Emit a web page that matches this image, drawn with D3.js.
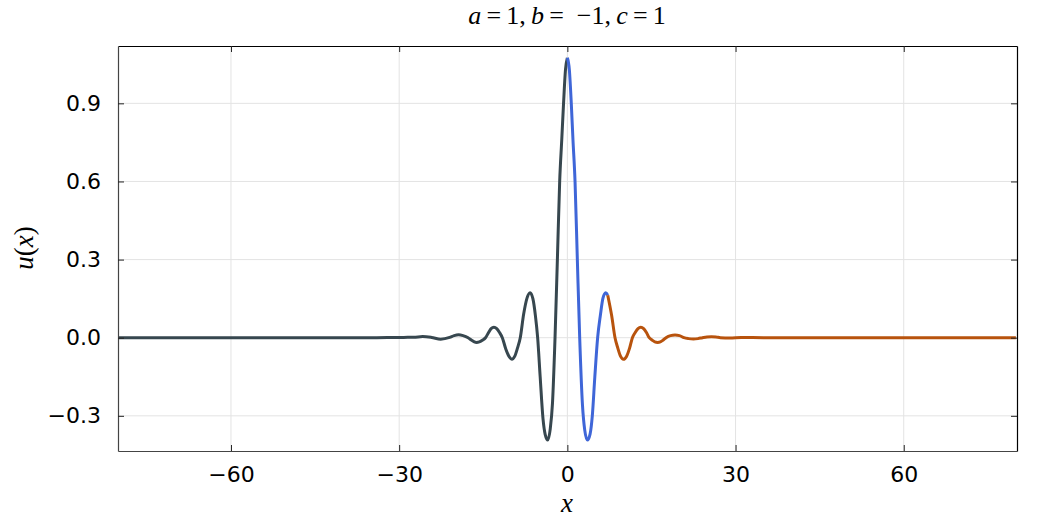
<!DOCTYPE html>
<html>
<head>
<meta charset="utf-8">
<script src="https://cdn.jsdelivr.net/npm/d3@7"></script>
<style>
  html, body { margin: 0; padding: 0; background: #ffffff; }
  svg { display: block; }
</style>
</head>
<body>
<svg id="chart" width="1046" height="523"></svg>
<script>
// ---- data ----
const xTicks = [-60, -30, 0, 30, 60];
const yTicks = [-0.3, 0.0, 0.3, 0.6, 0.9];
const xTickLabels = ["\u221260", "\u221230", "0", "30", "60"];
const yTickLabels = ["\u22120.3", "0.0", "0.3", "0.6", "0.9"];

// segment 1 (dark): x from -80 to 0
const xDark = [-80, -60, -40, -34, -31, -29.2, -27.4, -25.8, -24.2, -22.6, -21.0, -20.2, -19.4, -18.6, -17.7,
  -17.0, -16.6, -16.2, -15.7, -15.1, -14.6, -14.0, -13.6, -13.1, -12.6, -12.1, -11.6, -11.0, -10.4, -9.9,
  -9.4, -8.9, -8.4, -7.8, -7.2, -6.65, -6.15, -5.7, -5.3, -4.85, -4.35, -3.95, -3.49, -3.05, -2.65,
  -2.2, -1.78, -1.37, -1.0, -0.68, -0.33, 0];
const uDark = [0, 0, 0, 0, 0.0008, 0.0012, 0.0015, 0.0045, 0.001, -0.0055, 0.001, 0.008, 0.011, 0.008, 0,
  -0.011, -0.016, -0.018, -0.016, -0.009, 0, 0.022, 0.035, 0.040, 0.035, 0.02, 0, -0.042, -0.072, -0.083,
  -0.072, -0.04, 0, 0.09, 0.152, 0.173, 0.15, 0.085, 0, -0.15, -0.31, -0.372, -0.393, -0.35, -0.25,
  0, 0.3, 0.6, 0.76, 0.9, 1.03, 1.075];

// segment 2 (blue): x from 0 to ~7.2
const xBlue = [0, 0.35, 0.7, 1.0, 1.37, 1.78, 2.2, 2.7, 3.1, 3.57, 4.05, 4.45, 4.9, 5.4, 5.9, 6.35, 6.84, 7.2];
const uBlue = [1.075, 1.03, 0.9, 0.76, 0.6, 0.3, 0, -0.26, -0.355, -0.393, -0.37, -0.3, -0.15, 0, 0.088, 0.152, 0.173, 0.163];

// segment 3 (orange): x from ~7.2 to 80
const xOrange = [7.2, 7.9, 8.5, 9.0, 9.5, 10.0, 10.55, 11.1, 11.6, 12.1, 12.6, 13.1, 13.6, 14.1, 14.6,
  15.1, 15.6, 16.1, 16.6, 17.1, 17.6, 18.4, 19.2, 20.0, 20.8, 21.6, 22.5, 23.3, 24.1, 24.9, 25.7, 26.5,
  27.3, 29, 31, 35, 40, 60, 80];
const uOrange = [0.163, 0.085, 0, -0.04, -0.072, -0.083, -0.072, -0.04, 0, 0.02, 0.035, 0.040, 0.035, 0.02, 0,
  -0.009, -0.016, -0.018, -0.016, -0.009, 0, 0.008, 0.010, 0.008, 0, -0.0035, -0.005, -0.0035, 0, 0.003, 0.004, 0.003,
  0, -0.0008, 0.0006, 0, 0, 0, 0];

// ---- layout ----
const plot = { left: 118, right: 1017, top: 46, bottom: 451 };
const svg = d3.select("#chart");

const x = d3.scaleLinear().domain([-80.15, 80.2]).range([plot.left, plot.right]);
const y = d3.scaleLinear().domain([-0.4351, 1.1202]).range([plot.bottom, plot.top]);

const sansFont = "'DejaVu Sans', sans-serif";
const serifFont = "'Liberation Serif', serif";

// gridlines
const grid = svg.append("g");
grid.selectAll("line.gx").data(xTicks).join("line")
  .attr("x1", d => x(d)).attr("x2", d => x(d))
  .attr("y1", plot.top).attr("y2", plot.bottom)
  .attr("stroke", "#e3e3e3").attr("stroke-width", 1);
grid.selectAll("line.gy").data(yTicks).join("line")
  .attr("x1", plot.left).attr("x2", plot.right)
  .attr("y1", d => y(d)).attr("y2", d => y(d))
  .attr("stroke", "#e3e3e3").attr("stroke-width", 1);

// curves
const line = d3.line().x(d => x(d[0])).y(d => y(d[1])).curve(d3.curveMonotoneX);
const segs = [
  { xs: xDark, us: uDark, color: "#37474f" },
  { xs: xBlue, us: uBlue, color: "#3f66d8" },
  { xs: xOrange, us: uOrange, color: "#b8530d" }
];
svg.append("clipPath").attr("id", "clip").append("rect")
  .attr("x", plot.left).attr("y", plot.top)
  .attr("width", plot.right - plot.left).attr("height", plot.bottom - plot.top);
const curves = svg.append("g").attr("clip-path", "url(#clip)");
segs.forEach(s => {
  curves.append("path")
    .datum(s.xs.map((v, i) => [v, s.us[i]]))
    .attr("d", line)
    .attr("fill", "none")
    .attr("stroke", s.color)
    .attr("stroke-width", 3)
    .attr("stroke-linejoin", "round")
    .attr("stroke-linecap", "butt");
});

// axes (ticks inward, mirrored)
const tickLen = 6;
const bottomAxis = d3.axisBottom(x).tickValues(xTicks).tickSize(-tickLen).tickSizeOuter(0).tickPadding(15)
  .tickFormat((d, i) => xTickLabels[i]);
const topAxis = d3.axisTop(x).tickValues(xTicks).tickSize(-tickLen).tickSizeOuter(0).tickFormat("");
const leftAxis = d3.axisLeft(y).tickValues(yTicks).tickSize(-tickLen).tickSizeOuter(0).tickPadding(17)
  .tickFormat((d, i) => yTickLabels[i]);
const rightAxis = d3.axisRight(y).tickValues(yTicks).tickSize(-tickLen).tickSizeOuter(0).tickFormat("");

function styleAxis(g, color) {
  g.select(".domain").attr("stroke", color).attr("stroke-width", 1.2);
  g.selectAll(".tick line").attr("stroke", "#222").attr("stroke-width", 1);
  g.selectAll(".tick text").attr("fill", "#000").style("font-family", sansFont).style("font-size", "22px");
}

svg.append("g").attr("transform", `translate(0,${plot.top})`).call(topAxis).call(g => styleAxis(g, "#000"));
svg.append("g").attr("transform", `translate(${plot.right},0)`).call(rightAxis).call(g => styleAxis(g, "#000"));
svg.append("g").attr("transform", `translate(0,${plot.bottom})`).call(bottomAxis).call(g => styleAxis(g, "#444"));
svg.append("g").attr("transform", `translate(${plot.left},0)`).call(leftAxis).call(g => styleAxis(g, "#444"));

// title
const title = svg.append("text")
  .attr("x", 567).attr("y", 24)
  .attr("text-anchor", "middle")
  .style("font-family", serifFont).style("font-size", "26px").attr("fill", "#000");
const parts = [
  ["a", true], ["\u2009=\u20091,\u2009", false], ["b", true], ["\u2009=\u2002\u22121,\u2009", false], ["c", true], ["\u2009=\u20091", false]
];
parts.forEach(p => title.append("tspan").text(p[0]).style("font-style", p[1] ? "italic" : "normal"));

// axis labels
svg.append("text")
  .attr("x", 567).attr("y", 512)
  .attr("text-anchor", "middle")
  .style("font-family", serifFont).style("font-size", "27px").style("font-style", "italic")
  .text("x");

const yl = svg.append("text")
  .attr("transform", "translate(33,248) rotate(-90)")
  .attr("text-anchor", "middle")
  .style("font-family", serifFont).style("font-size", "27px");
yl.append("tspan").text("u").style("font-style", "italic");
yl.append("tspan").text("(");
yl.append("tspan").text("x").style("font-style", "italic");
yl.append("tspan").text(")");
</script>
</body>
</html>
